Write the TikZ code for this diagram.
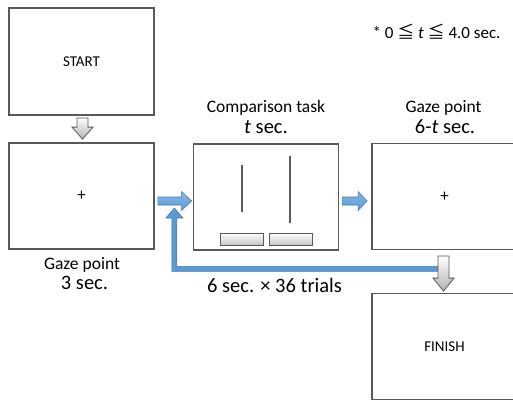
\documentclass[tikz,border=0pt]{standalone}
\usepackage{fontspec}
\setmainfont{Carlito}
\newfontfamily\cjk{Noto Sans CJK JP}
\usetikzlibrary{calc}
\definecolor{framegray}{RGB}{89,89,89}
\definecolor{flowblue}{RGB}{91,155,213}
\definecolor{flowblueedge}{RGB}{70,120,180}
\definecolor{flowbluelight}{RGB}{135,183,232}
\newcommand\fs[1]{\fontsize{#1bp}{#1bp}\selectfont}
% block arrow pointing right: from, to, head length
\newcommand\rightblock[3]{%
  \path[blueblock] ($(#1)+(0,-4)$) -- ($(#2)+(-#3,-4)$) -- ($(#2)+(-#3,-9.5)$) -- (#2)
    -- ($(#2)+(-#3,9.5)$) -- ($(#2)+(-#3,4)$) -- ($(#1)+(0,4)$) -- cycle;}
% hollow block arrow pointing down: from, to, head length
\newcommand\downblock[3]{%
  \path[greyblock] ($(#1)+(-5.5,0)$) -- ($(#2)+(-5.5,-#3)$) -- ($(#2)+(-10.5,-#3)$) -- (#2)
    -- ($(#2)+(10.5,-#3)$) -- ($(#2)+(5.5,-#3)$) -- ($(#1)+(5.5,0)$) -- cycle;}
\begin{document}
\begin{tikzpicture}[x=1bp,y=-1bp,
  screen/.style={draw=framegray, line width=1.8bp, fill=white, minimum width=145bp,
    minimum height=106bp, inner sep=0pt, font=\fs{15}},
  fixation/.style={screen, font=\fs{17}},
  caption/.style={anchor=base, inner sep=0pt, font=\fs{17.5}},
  timing/.style={anchor=base, inner sep=0pt, font=\fs{20.5}},
  greyblock/.style={top color=white, bottom color=black!30, draw=black!65, line width=0.8bp},
  blueblock/.style={top color=flowbluelight, bottom color=flowblue, draw=flowblueedge, line width=0.6bp},
  loopline/.style={fill=flowblue, draw=flowblueedge, line width=0.6bp},
  stimbar/.style={draw=framegray, line width=1bp, top color=white, bottom color=black!22,
    minimum width=43bp, minimum height=12bp, inner sep=0pt},
  stimline/.style={draw=framegray, line width=1.8bp}]
\useasboundingbox (0,0) rectangle (513,401);

% screens
\node[screen, minimum height=107bp] (start) at (81.5,61.5) {START};
\node[fixation] (gaze1) at (81.5,196) {+};
\node[screen] (comp) at (266,197) {};
\node[fixation] (gaze2) at (444.5,196.5) {+};
\node[screen] (finish) at (444.5,346.5) {FINISH};

% comparison stimulus: two vertical lines and two response buttons
\node[stimbar] (barL) at ($(comp.center)+(-24.5,42)$) {};
\node[stimbar] (barR) at ($(comp.center)+(24.5,42)$) {};
\draw[stimline] ($(comp.center)+(-24,-32)$) -- ($(comp.center)+(-24,15)$);
\draw[stimline] ($(comp.center)+(24,-41)$) -- ($(comp.center)+(24,26)$);

% captions
\node[caption] (g1cap) at (82,269) {Gaze point};
\node[timing] (g1time) at (84.5,289) {3 sec.};
\node[caption] (ccap) at (266,112) {Comparison task};
\node[timing] (ctime) at (266,133) {\textit{t} sec.};
\node[caption] (g2cap) at (443.5,112) {Gaze point};
\node[timing] (g2time) at (445,133) {6-\textit{t} sec.};
\node[anchor=base, inner sep=0pt, font=\fs{17}] (range) at (436.5,38)
  {* 0 {\cjk ≦} \textit{t} {\cjk ≦} 4.0 sec.};
\node[timing] (loopnote) at (274.5,292) {6 sec. × 36 trials};

% arrow anchors
\coordinate (r1from) at ($(gaze1.east)+(3,5)$);
\coordinate (r1to) at ($(comp.west)+(-1,4)$);
\coordinate (r2from) at ($(comp.east)+(3,4)$);
\coordinate (r2to) at ($(gaze2.west)+(-4,4.5)$);
\coordinate (d1from) at ($(start.south)+(1,2)$);
\coordinate (d1to) at ($(gaze1.north)+(1,-3)$);
\coordinate (d2from) at ($(gaze2.south)+(-1,5.5)$);
\coordinate (d2to) at ($(finish.north)+(-1,-1.5)$);
\coordinate (loopstart) at ($(d2from)+(-5.5,13)$);
\coordinate (looptip) at ($(r1from)+(16.5,7)$);
\coordinate (loopcorner) at (looptip |- loopstart);

% repeat loop back to the first trial
\path[loopline] ($(loopstart)+(0,-2.5)$) -- ($(loopcorner)+(2.5,-2.5)$) -- ($(looptip)+(2.5,10)$)
  -- ($(looptip)+(8.5,10)$) -- (looptip) -- ($(looptip)+(-8.5,10)$) -- ($(looptip)+(-2.5,10)$)
  -- ($(loopcorner)+(-2.5,2.5)$) -- ($(loopstart)+(0,2.5)$) -- cycle;

% flow arrows
\rightblock{r1from}{r1to}{10}
\rightblock{r2from}{r2to}{9}
\downblock{d1from}{d1to}{12}
\downblock{d2from}{d2to}{13}
\end{tikzpicture}
\end{document}
